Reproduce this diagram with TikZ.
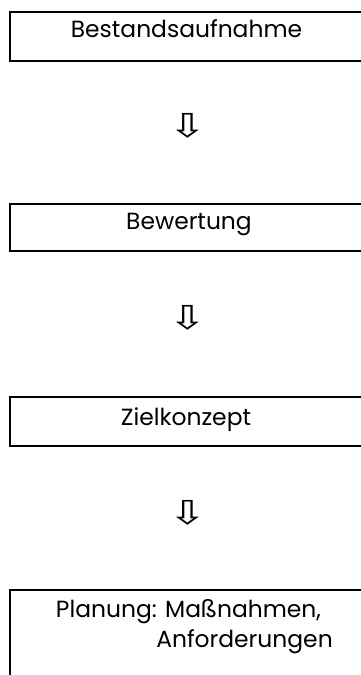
\documentclass[tikz,border=0pt]{standalone}
\usepackage{fontspec}
\setmainfont{Poppins}
\newfontfamily\arrowfont{DejaVu Sans}
\newcommand{\dnarrow}{\scalebox{1.4}[1]{⇩}}
\begin{document}
\begin{tikzpicture}[x=1pt,y=-1pt,
  boxst/.style={draw, line width=2pt, rectangle, anchor=north west, inner sep=0pt, minimum width=420pt},
  lbl/.style={anchor=base, inner sep=0pt, font=\fontsize{23.4}{28}\selectfont},
  arr/.style={inner sep=0pt, font=\arrowfont\fontsize{33}{40}\selectfont}]
\useasboundingbox (0,0) rectangle (361,675);
\clip (0,0) rectangle (361,675);
\node[boxst, minimum height=49pt] (b1) at (9,11) {};
\node[boxst, minimum height=47pt] (b2) at (9,203) {};
\node[boxst, minimum height=49pt] (b3) at (9,396) {};
\node[boxst, minimum height=120pt] (b4) at (9,589) {};
\node[lbl] (t1) at (186.5,37.3) {Bestandsaufnahme};
\node[lbl] (t2) at (189,229) {Bewertung};
\node[lbl] (t3) at (186,425) {Zielkonzept};
\node[lbl] (t4a) at (188.5,617) {Planung: Maßnahmen,};
\node[lbl] (t4b) at (244.5,647) {Anforderungen};
\node[arr] (a1) at (187.5,126) {\dnarrow};
\node[arr] (a2) at (187.5,317.5) {\dnarrow};
\node[arr] (a3) at (187.5,512.5) {\dnarrow};
\end{tikzpicture}
\end{document}
